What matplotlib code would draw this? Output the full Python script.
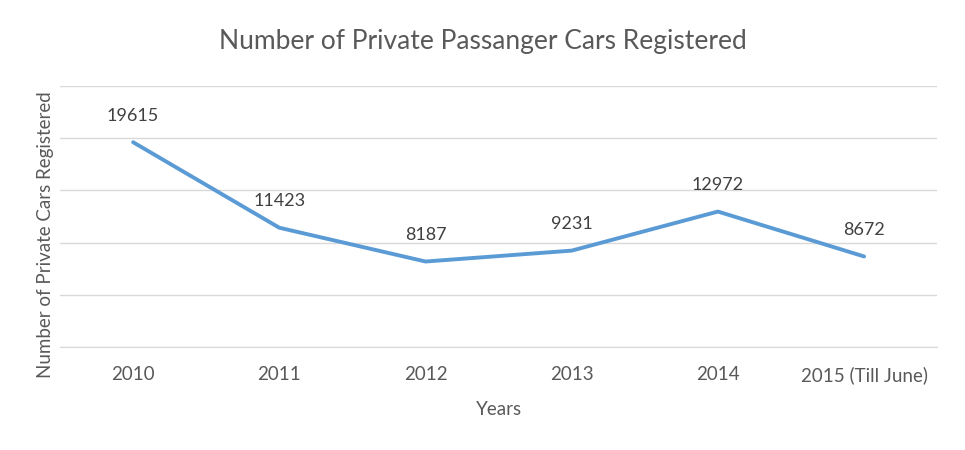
import matplotlib
matplotlib.use('Agg')
import matplotlib.pyplot as plt

# Data
years = ['2010', '2011', '2012', '2013', '2014', '2015 (Till June)']
cars = [19615, 11423, 8187, 9231, 12972, 8672]
y_grid = [0, 5000, 10000, 15000, 20000, 25000]

text_color = '#595959'
plt.rcParams['font.family'] = ['Lato', 'DejaVu Sans']

fig = plt.figure(figsize=(9.65, 4.5), dpi=100)
ax = fig.add_axes([0.0622, 0.2289, 0.909, 0.58])

x = list(range(len(years)))
ax.plot(x, cars, color='#5B9BD5', linewidth=2.8, solid_capstyle='round', zorder=3)

for xi, v in zip(x, cars):
    ax.annotate(str(v), xy=(xi, v), xytext=(0, 19), textcoords='offset points',
                ha='center', va='center', fontsize=13, color='#404040')

ax.set_xlim(-0.5, len(years) - 0.5)
ax.set_ylim(0, 25000)
ax.set_yticks(y_grid)
ax.set_yticklabels([])
ax.tick_params(axis='y', length=0)
ax.set_xticks(x)
ax.set_xticklabels(years, fontsize=13.5, color=text_color)
ax.tick_params(axis='x', length=0, pad=14)

ax.grid(axis='y', color='#D9D9D9', linewidth=1)
ax.set_axisbelow(True)
for s in ['top', 'right', 'left']:
    ax.spines[s].set_visible(False)
ax.spines['bottom'].set_color('#D9D9D9')

ax.set_xlabel('Years', fontsize=13.5, color=text_color, labelpad=12)
ax.set_ylabel('Number of Private Cars Registered', fontsize=13.5, color=text_color)
ax.yaxis.set_label_coords(-0.007, 0.43)
fig.suptitle('Number of Private Passanger Cars Registered', fontsize=19,
             color=text_color, y=0.935)

fig.savefig('out.png', dpi=100)
